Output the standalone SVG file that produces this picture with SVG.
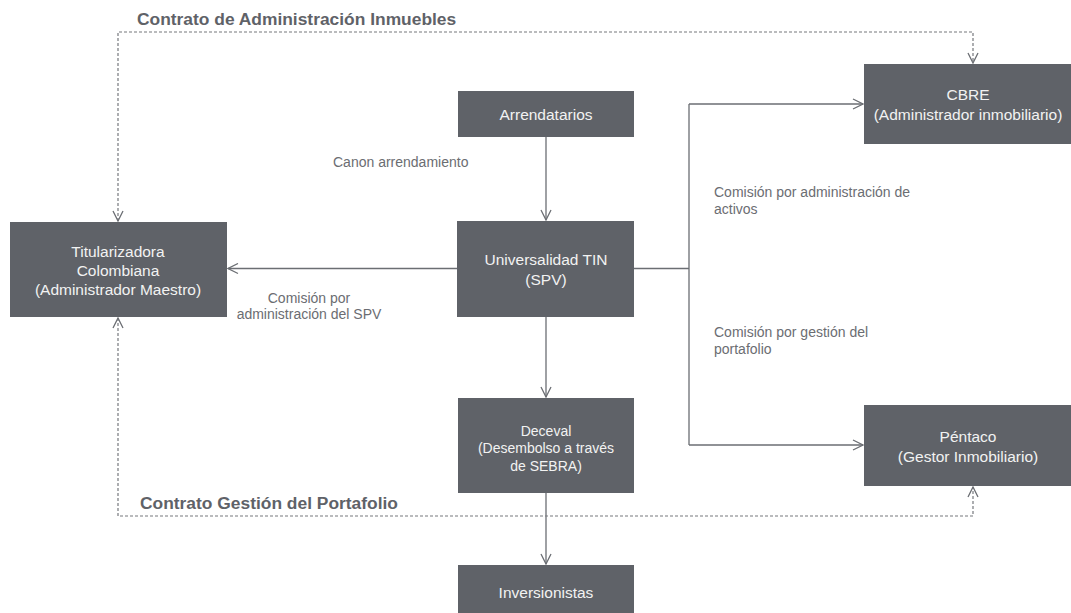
<svg xmlns="http://www.w3.org/2000/svg" width="1071" height="613" viewBox="0 0 1071 613">
<style>
.box{fill:#5f6268}
.bt{font-family:"Liberation Sans",Arial,sans-serif;font-size:15.5px;fill:#f2f2f2;text-anchor:middle}
.lbl{font-family:"Liberation Sans",Arial,sans-serif;font-size:14px;fill:#6b6d72}
.ttl{font-family:"Liberation Sans",Arial,sans-serif;font-size:17.4px;font-weight:bold;fill:#5f6268}
.ln{fill:none;stroke:#6b6e73;stroke-width:1.3}
.dash{fill:none;stroke:#76787d;stroke-width:1.2;stroke-dasharray:3 2}
</style>
<defs>
<marker id="ah" viewBox="0 0 12 12" refX="11" refY="6" markerWidth="12" markerHeight="12" markerUnits="userSpaceOnUse" orient="auto-start-reverse">
<path d="M1,1 L11,6 L1,11" fill="none" stroke="#6b6e73" stroke-width="1.3"/>
</marker>
</defs>
<rect width="1071" height="613" fill="#ffffff"/>
<text class="ttl" x="137" y="25">Contrato de Administración Inmuebles</text>
<text class="ttl" x="140" y="509">Contrato Gestión del Portafolio</text>
<g id="connectors">
<path class="ln" d="M546,137 V220" marker-end="url(#ah)"/>
<path class="ln" d="M457,268.5 H228" marker-end="url(#ah)"/>
<path class="ln" d="M634,268.5 H689 M689,104 V445"/>
<path class="ln" d="M689,104 H863" marker-end="url(#ah)"/>
<path class="ln" d="M689,445 H863" marker-end="url(#ah)"/>
<path class="ln" d="M546,317 V397" marker-end="url(#ah)"/>
<path class="ln" d="M546,493 V564" marker-end="url(#ah)"/>
<path class="dash" d="M118,221 V32 H973 V63" marker-start="url(#ah)" marker-end="url(#ah)"/>
<path class="dash" d="M118,318 V516 H973 V487" marker-start="url(#ah)" marker-end="url(#ah)"/>
<text class="lbl" x="333" y="167">Canon arrendamiento</text>
<text class="lbl" x="309" y="303" text-anchor="middle">Comisión por</text>
<text class="lbl" x="309" y="319" text-anchor="middle">administración del SPV</text>
<text class="lbl" x="714" y="197">Comisión por administración de</text>
<text class="lbl" x="714" y="214">activos</text>
<text class="lbl" x="714" y="337">Comisión por gestión del</text>
<text class="lbl" x="714" y="354">portafolio</text>
</g>
<g id="arrendatarios"><rect class="box" x="458" y="91" width="176" height="46"/><text class="bt" x="546" y="120">Arrendatarios</text></g>
<g id="universalidad"><rect class="box" x="457" y="221" width="177" height="96"/><text class="bt" x="546" y="265">Universalidad TIN</text><text class="bt" x="546" y="285">(SPV)</text></g>
<g id="titularizadora"><rect class="box" x="10" y="222" width="217" height="95"/><text class="bt" x="118" y="257">Titularizadora</text><text class="bt" x="118" y="276">Colombiana</text><text class="bt" x="118" y="295">(Administrador Maestro)</text></g>
<g id="cbre"><rect class="box" x="864" y="64" width="207" height="80"/><text class="bt" x="968" y="100">CBRE</text><text class="bt" x="968" y="120">(Administrador inmobiliario)</text></g>
<g id="deceval"><rect class="box" x="458" y="398" width="176" height="95"/><text class="bt" x="546" y="436" style="font-size:14px">Deceval</text><text class="bt" x="546" y="453" style="font-size:14px">(Desembolso a través</text><text class="bt" x="546" y="471" style="font-size:14px">de SEBRA)</text></g>
<g id="pentaco"><rect class="box" x="864" y="405" width="207" height="81"/><text class="bt" x="968" y="442">Péntaco</text><text class="bt" x="968" y="462">(Gestor Inmobiliario)</text></g>
<g id="inversionistas"><rect class="box" x="458" y="565" width="176" height="48"/><text class="bt" x="546" y="598">Inversionistas</text></g>
</svg>
